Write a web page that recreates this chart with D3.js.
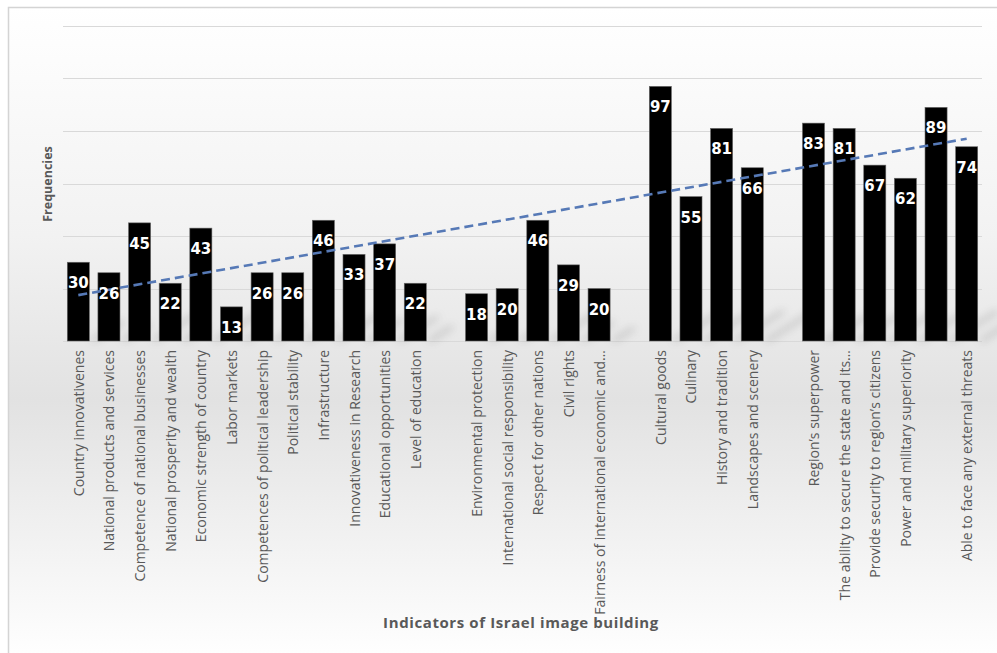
<!DOCTYPE html>
<html>
<head>
<meta charset="utf-8">
<script src="https://cdn.jsdelivr.net/npm/d3@7"></script>
<style>
  body { margin: 0; padding: 0; background: #fff; }
  svg { display: block; }
</style>
</head>
<body>
<svg id="chart" width="997" height="653"></svg>
<script>
// categories, blanks are the empty slots Excel left between groups
const categories = [
  "Country innovativenes", "National products and services", "Competence of national businesses",
  "National prosperity and wealth", "Economic strength of country", "Labor markets",
  "Competences of political leadership", "Political stability", "Infrastructure",
  "Innovativeness in Research", "Educational opportunities", "Level of education",
  "",
  "Environmental protection", "International social responsibility", "Respect for other nations",
  "Civil rights", "Fairness of international economic and\u2026",
  "",
  "Cultural goods", "Culinary", "History and tradition", "Landscapes and scenery",
  "",
  "Region\u2019s superpower", "The ability to secure the state and its\u2026",
  "Provide security to region\u2019s citizens", "Power and military superiority",
  "", "Able to face any external threats"
];
// null = no bar in that slot
const frequencies = [
  30, 26, 45, 22, 43, 13, 26, 26, 46, 33, 37, 22,
  null,
  18, 20, 46, 29, 20,
  null,
  97, 55, 81, 66,
  null,
  83, 81, 67, 62, 89, 74
];
const yTicks = [0, 20, 40, 60, 80, 100, 120];

const svg = d3.select("#chart");
const W = 997, H = 653;
const plot = { left: 63, right: 982, top: 26, bottom: 341 };

// background panel with soft vertical gradient
const defs = svg.append("defs");
const grad = defs.append("linearGradient").attr("id", "bg").attr("x1", 0).attr("y1", 0).attr("x2", 0).attr("y2", 1);
grad.append("stop").attr("offset", "0%").attr("stop-color", "#ffffff");
grad.append("stop").attr("offset", "35%").attr("stop-color", "#f2f2f2");
grad.append("stop").attr("offset", "60%").attr("stop-color", "#e2e2e2");
grad.append("stop").attr("offset", "82%").attr("stop-color", "#f2f2f2");
grad.append("stop").attr("offset", "100%").attr("stop-color", "#ffffff");

const blur = defs.append("filter").attr("id", "shadow").attr("x", "-50%").attr("y", "-50%").attr("width", "200%").attr("height", "200%");
blur.append("feGaussianBlur").attr("stdDeviation", 4);

svg.append("rect")
  .attr("x", 8.5).attr("y", 7.5)
  .attr("width", W).attr("height", H)
  .attr("fill", "url(#bg)")
  .attr("stroke", "#d4d4d4").attr("stroke-width", 1.5);

const keys = categories.map((c, i) => i);
const x = d3.scaleBand().domain(keys).range([plot.left, plot.right]).paddingInner(0.28).paddingOuter(0.14);
const y = d3.scaleLinear().domain([0, 120]).range([plot.bottom, plot.top]);

// gridlines
svg.append("g").selectAll("line")
  .data(yTicks)
  .join("line")
  .attr("x1", plot.left).attr("x2", plot.right)
  .attr("y1", d => Math.round(y(d)) + 0.5).attr("y2", d => Math.round(y(d)) + 0.5)
  .attr("stroke", "#d9d9d9").attr("stroke-width", 1);

const bars = keys.filter(i => frequencies[i] !== null);

// soft perspective shadows at the bar feet
svg.append("g").attr("filter", "url(#shadow)").attr("opacity", 0.35)
  .selectAll("path")
  .data(bars)
  .join("path")
  .attr("d", i => {
    const x0 = x(i), bw = x.bandwidth(), b = y(0);
    const h = Math.min(30, (y(0) - y(frequencies[i])) * 0.25);
    return `M${x0 + bw},${b} L${x0 + bw + h * 1.6},${b - h} L${x0 + bw + h * 1.6 + 6},${b - h} L${x0 + bw + 6},${b} Z`;
  })
  .attr("fill", "#555");

// bars
svg.append("g").selectAll("rect")
  .data(bars)
  .join("rect")
  .attr("x", i => x(i))
  .attr("y", i => y(frequencies[i]))
  .attr("width", x.bandwidth())
  .attr("height", i => y(0) - y(frequencies[i]))
  .attr("fill", "#000")
  .attr("stroke", "#666").attr("stroke-width", 0.6);

// linear trendline over slot index (blanks skipped)
const n = bars.length;
const mx = d3.mean(bars), my = d3.mean(bars, i => frequencies[i]);
const slope = d3.sum(bars, i => (i - mx) * (frequencies[i] - my)) / d3.sum(bars, i => (i - mx) * (i - mx));
const intercept = my - slope * mx;
const first = bars[0], last = bars[n - 1];
svg.append("line")
  .attr("x1", x(first) + x.bandwidth() / 2).attr("y1", y(intercept + slope * first))
  .attr("x2", x(last) + x.bandwidth() / 2).attr("y2", y(intercept + slope * last))
  .attr("stroke", "#5679b6").attr("stroke-width", 2.6)
  .attr("stroke-dasharray", "9,5");

// value labels inside bar tops
svg.append("g").selectAll("text")
  .data(bars)
  .join("text")
  .attr("x", i => x(i) + x.bandwidth() / 2)
  .attr("y", i => y(frequencies[i]) + 26)
  .attr("text-anchor", "middle")
  .attr("fill", "#fff")
  .attr("font-family", "DejaVu Sans")
  .attr("font-weight", "bold")
  .attr("font-size", "15px")
  .text(i => frequencies[i]);

// rotated category labels
svg.append("g").selectAll("text")
  .data(keys.filter(i => categories[i] !== ""))
  .join("text")
  .attr("transform", i => `translate(${x(i) + x.bandwidth() / 2},350) rotate(-90)`)
  .attr("text-anchor", "end")
  .attr("dominant-baseline", "central")
  .attr("fill", "#595959")
  .attr("font-family", "Open Sans")
  .attr("font-size", "14px")
  .text(i => categories[i]);

// axis titles
svg.append("text")
  .attr("transform", `translate(47,184) rotate(-90)`)
  .attr("text-anchor", "middle")
  .attr("dominant-baseline", "central")
  .attr("fill", "#595959")
  .attr("font-family", "Open Sans")
  .attr("font-weight", "bold")
  .attr("font-size", "12.5px")
  .text("Frequencies");

svg.append("text")
  .attr("x", 521).attr("y", 628)
  .attr("text-anchor", "middle")
  .attr("fill", "#595959")
  .attr("font-family", "Open Sans")
  .attr("font-weight", "bold")
  .attr("font-size", "15px")
  .attr("letter-spacing", "0.6px")
  .text("Indicators of Israel image building");
</script>
</body>
</html>
